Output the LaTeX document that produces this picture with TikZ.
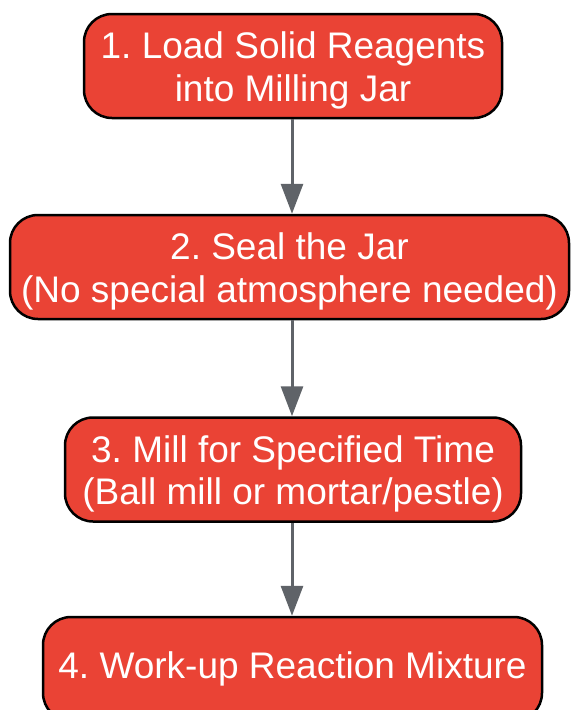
\documentclass[tikz,border=0pt]{standalone}
\usepackage{fontspec}
\setmainfont{Liberation Sans}
\usetikzlibrary{arrows.meta}
\definecolor{boxred}{HTML}{EA4335}
\definecolor{arrowgray}{HTML}{5F6368}
\newcommand{\topstrut}{\rule{0pt}{36pt}}
\frenchspacing
\begin{document}
\begin{tikzpicture}[x=1pt,y=-1pt,
  stepbox/.style={draw=black, line width=2.5pt, fill=boxred, rounded corners=28pt,
    text=white, align=center, font=\fontsize{37}{42.5}\selectfont, inner sep=0pt,
    minimum height=104pt},
  flow/.style={draw=arrowgray, line width=3pt, -{Triangle[width=22pt,length=30pt]}}]
\useasboundingbox (0,0) rectangle (574,710);
\node[stepbox, minimum width=418pt] (s1) at (293,66) {\topstrut1. Load Solid Reagents\\into Milling Jar};
\node[stepbox, minimum width=559pt] (s2) at (289.5,267) {\topstrut2. Seal the Jar\\(No special atmosphere needed)};
\node[stepbox, minimum width=456pt] (s3) at (293,469.5) {\topstrut3. Mill for Specified Time\\(Ball mill or mortar/pestle)};
\node[stepbox, minimum width=499pt] (s4) at (292.5,669) {4. Work-up Reaction Mixture};
\draw[flow] (s1.south -| 292,0) -- (s2.north -| 292,0);
\draw[flow] (s2.south -| 292,0) -- (s3.north -| 292,0);
\draw[flow] (s3.south -| 292,0) -- (s4.north -| 292,0);
\end{tikzpicture}
\end{document}
